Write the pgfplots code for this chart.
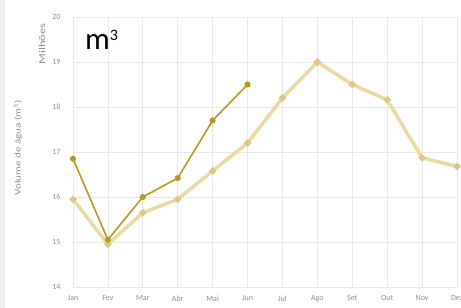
\documentclass[border=0pt]{standalone}
\usepackage{pgfplots}
\pgfplotsset{compat=1.18}
\usepackage{fontspec}
\setmainfont{Carlito}
\definecolor{darkser}{HTML}{B49B1E}
\definecolor{lightser}{HTML}{EBD9A2}
\definecolor{lightmark}{HTML}{DDC688}
\definecolor{gridc}{HTML}{E8E8E8}
\definecolor{txt}{HTML}{8C8C8C}
\begin{document}
\begin{tikzpicture}[x=1pt,y=1pt]
\useasboundingbox (0,0) rectangle (461,308);
\fill[gray!12] (0,0) rectangle (5,308);
\begin{axis}[
  at={(73pt,21pt)}, anchor=south west,
  scale only axis, width=384pt, height=270pt,
  xmin=0, xmax=11, ymin=14, ymax=20,
  xtick={0,...,11},
  xticklabels={Jan,Fev,Mar,Abr,Mai,Jun,Jul,Ago,Set,Out,Nov,Dez},
  ytick={14,15,16,17,18,19,20},
  axis line style={draw=none},
  major tick length=0pt,
  grid=major, grid style={gridc, line width=0.8pt},
  tick label style={font=\fontsize{8}{9}\selectfont, text=txt},
  yticklabel style={xshift=-9pt},
  xticklabel style={yshift=-5pt},
  /pgf/number format/assume math mode=true,
  clip=false,
]
\addplot[lightser, line width=3.5pt, mark=*, mark size=1.5pt, mark options={fill=lightmark, draw=lightmark}]
 coordinates {(0,15.95)(1,14.95)(2,15.65)(3,15.95)(4,16.58)(5,17.2)(6,18.2)(7,19.0)(8,18.5)(9,18.16)(10,16.87)(11,16.68)};
\addplot[darkser, line width=1.6pt, mark=*, mark size=2.2pt, mark options={fill=darkser}]
 coordinates {(0,16.85)(1,15.05)(2,16.0)(3,16.42)(4,17.7)(5,18.5)};
\end{axis}
\node[font=\fontsize{31}{34}\selectfont, anchor=base west, inner sep=0pt] at (85,258) {m\raisebox{9pt}{\fontsize{16}{18}\selectfont 3}};
\node[rotate=90, font=\fontsize{9}{10}\selectfont, text=txt] at (42,264) {\scalebox{1.4}[1]{Milhões}};
\node[rotate=90, font=\fontsize{8.5}{10}\selectfont, text=txt] at (18,160) {\scalebox{1.3}[1]{Volume de água (m\textsuperscript{3})}};
\end{tikzpicture}
\end{document}
